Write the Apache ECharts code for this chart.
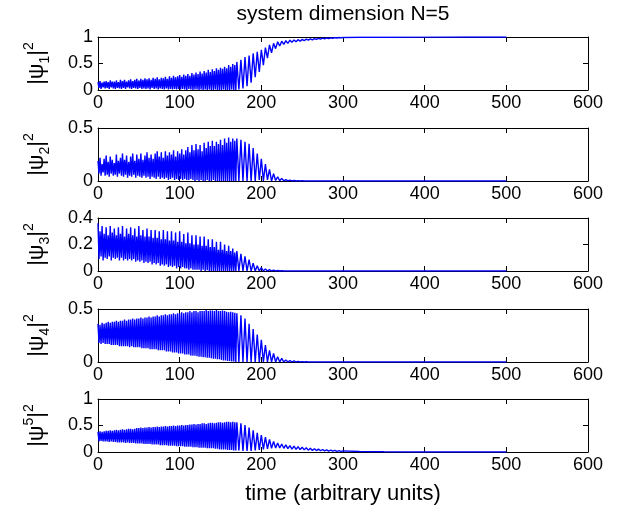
<!DOCTYPE html>
<html>
<head>
<meta charset="utf-8">
<script src="https://cdn.jsdelivr.net/npm/echarts@6/dist/echarts.min.js"></script>
<style>html,body{margin:0;padding:0;background:#fff;}#c{width:623px;height:513px;}</style>
</head>
<body>
<div id="c"></div>
<script>
// time samples (arbitrary units)
var time = [
0,1.25,2.5,3.75,5,6.25,7.5,8.75,
10,11.25,12.5,13.75,15,16.25,17.5,18.75,
20,21.25,22.5,23.75,25,26.25,27.5,28.75,
30,31.25,32.5,33.75,35,36.25,37.5,38.75,
40,41.25,42.5,43.75,45,46.25,47.5,48.75,
50,51.25,52.5,53.75,55,56.25,57.5,58.75,
60,61.25,62.5,63.75,65,66.25,67.5,68.75,
70,71.25,72.5,73.75,75,76.25,77.5,78.75,
80,81.25,82.5,83.75,85,86.25,87.5,88.75,
90,91.25,92.5,93.75,95,96.25,97.5,98.75,
100,101.25,102.5,103.75,105,106.25,107.5,108.75,
110,111.25,112.5,113.75,115,116.25,117.5,118.75,
120,121.25,122.5,123.75,125,126.25,127.5,128.75,
130,131.25,132.5,133.75,135,136.25,137.5,138.75,
140,141.25,142.5,143.75,145,146.25,147.5,148.75,
150,151.25,152.5,153.75,155,156.25,157.5,158.75,
160,161.25,162.5,163.75,165,166.25,167.5,168.75,
170,172.5,175,177.5,
180,182.5,185,187.5,
190,192.5,195,197.5,
200,202.5,205,207.5,
210,212.5,215,217.5,
220,222.5,225,227.5,
230,232.5,235,237.5,
240,242.5,245,247.5,
250,252.5,255,257.5,
260,262.5,265,267.5,
270,272.5,275,277.5,
280,282.5,285,287.5,
290,292.5,295,297.5,
300,
320,350,400,450,500];

var psi1 = [
0.15,0.04,0.17,0.02,0.14,0.05,0.16,0.03,
0.17,0.04,0.15,0.02,0.18,0.05,0.16,0.03,
0.16,0.02,0.18,0.04,0.15,0.03,0.19,0.02,
0.17,0.04,0.19,0.02,0.16,0.05,0.18,0.03,
0.20,0.02,0.17,0.04,0.19,0.03,0.21,0.02,
0.18,0.04,0.21,0.02,0.19,0.03,0.22,0.02,
0.20,0.03,0.22,0.01,0.19,0.04,0.23,0.02,
0.21,0.03,0.24,0.01,0.20,0.03,0.23,0.02,
0.22,0.01,0.25,0.03,0.21,0.01,0.26,0.02,
0.23,0.01,0.27,0.02,0.24,0.01,0.26,0.02,
0.28,0.01,0.25,0.02,0.29,0.01,0.27,0.00,
0.30,0.02,0.27,0.01,0.32,0.00,0.29,0.01,
0.33,0.01,0.30,0.00,0.35,0.01,0.31,0.00,
0.36,0.01,0.33,0.00,0.38,0.01,0.34,0.00,
0.39,0.00,0.36,0.01,0.41,0.00,0.38,0.00,
0.42,0.00,0.40,0.01,0.44,0.00,0.41,0.00,
0.47,0.00,0.44,0.01,0.49,0.00,0.47,0.00,
0.53,0.01,0.57,0.03,
0.62,0.07,0.65,0.14,
0.69,0.24,0.72,0.34,
0.76,0.47,0.80,0.60,
0.85,0.70,0.88,0.78,
0.91,0.83,0.92,0.86,
0.93,0.88,0.94,0.90,
0.945,0.91,0.95,0.92,
0.955,0.93,0.96,0.94,
0.965,0.945,0.97,0.955,
0.975,0.96,0.978,0.967,
0.982,0.972,0.985,0.977,
0.987,0.981,0.99,0.985,
0.991,
0.994,0.996,0.998,0.999,1.0];

var psi2 = [
0.19,0.07,0.22,0.05,0.16,0.08,0.21,0.05,
0.24,0.06,0.18,0.04,0.23,0.07,0.20,0.05,
0.17,0.06,0.25,0.04,0.19,0.07,0.22,0.05,
0.26,0.04,0.20,0.06,0.24,0.03,0.18,0.05,
0.23,0.04,0.26,0.06,0.19,0.03,0.25,0.05,
0.21,0.04,0.26,0.03,0.20,0.05,0.24,0.03,
0.27,0.04,0.22,0.02,0.25,0.04,0.21,0.03,
0.26,0.02,0.28,0.04,0.23,0.02,0.27,0.03,
0.22,0.02,0.28,0.03,0.24,0.01,0.27,0.02,
0.25,0.03,0.29,0.01,0.23,0.02,0.28,0.01,
0.26,0.02,0.30,0.01,0.25,0.02,0.29,0.01,
0.32,0.01,0.27,0.02,0.34,0.01,0.29,0.00,
0.35,0.01,0.30,0.00,0.34,0.01,0.28,0.00,
0.36,0.00,0.31,0.01,0.37,0.00,0.33,0.00,
0.38,0.01,0.33,0.00,0.37,0.00,0.35,0.00,
0.39,0.00,0.34,0.00,0.40,0.00,0.36,0.00,
0.41,0.00,0.37,0.00,0.40,0.00,0.38,0.00,
0.40,0.00,0.39,0.00,
0.37,0.00,0.35,0.00,
0.31,0.00,0.26,0.01,
0.21,0.00,0.16,0.01,
0.11,0.00,0.07,0.005,
0.04,0.002,0.025,0.002,
0.013,0.001,0.008,0.001,
0.005,0,0.003,0,
0.002,0,0.001,0,
0.001,0,0.001,0,
0,0,0,0,
0,0,0,0,
0,0,0,0,
0,
0,0,0,0,0];

var psi3 = [
0.36,0.09,0.30,0.11,0.34,0.08,0.28,0.10,
0.33,0.09,0.27,0.11,0.34,0.08,0.29,0.10,
0.32,0.09,0.27,0.10,0.33,0.08,0.28,0.10,
0.34,0.08,0.26,0.09,0.32,0.08,0.28,0.09,
0.33,0.08,0.27,0.09,0.32,0.07,0.26,0.08,
0.34,0.07,0.27,0.08,0.31,0.06,0.26,0.07,
0.32,0.06,0.26,0.07,0.31,0.05,0.25,0.06,
0.31,0.05,0.25,0.06,0.30,0.04,0.24,0.05,
0.31,0.04,0.24,0.05,0.30,0.03,0.23,0.04,
0.30,0.03,0.23,0.04,0.29,0.02,0.22,0.03,
0.30,0.02,0.22,0.03,0.28,0.02,0.21,0.02,
0.29,0.01,0.21,0.02,0.27,0.01,0.20,0.01,
0.27,0.01,0.20,0.01,0.26,0.00,0.19,0.01,
0.26,0.00,0.19,0.005,0.24,0.00,0.18,0.00,
0.24,0.00,0.18,0.00,0.22,0.00,0.16,0.00,
0.22,0.00,0.16,0.00,0.20,0.00,0.15,0.00,
0.19,0.00,0.15,0.00,0.17,0.00,0.14,0.00,
0.15,0.00,0.13,0.00,
0.11,0.00,0.085,0.00,
0.06,0.00,0.04,0.00,
0.025,0,0.016,0,
0.01,0,0.006,0,
0.004,0,0.002,0,
0.001,0,0,0,
0,0,0,0,
0,0,0,0,
0,0,0,0,
0,0,0,0,
0,0,0,0,
0,0,0,0,
0,
0,0,0,0,0];

var psi4 = [
0.36,0.18,0.35,0.17,0.37,0.18,0.36,0.17,
0.37,0.17,0.38,0.17,0.37,0.16,0.38,0.16,
0.38,0.16,0.39,0.16,0.38,0.15,0.39,0.15,
0.39,0.15,0.40,0.15,0.39,0.15,0.40,0.14,
0.40,0.15,0.41,0.14,0.40,0.14,0.41,0.14,
0.41,0.14,0.42,0.13,0.41,0.13,0.42,0.13,
0.42,0.13,0.43,0.12,0.42,0.12,0.43,0.12,
0.43,0.12,0.44,0.11,0.43,0.11,0.44,0.11,
0.44,0.11,0.45,0.10,0.44,0.10,0.45,0.10,
0.45,0.09,0.46,0.09,0.45,0.09,0.46,0.08,
0.46,0.08,0.47,0.08,0.46,0.07,0.47,0.07,
0.47,0.07,0.48,0.06,0.47,0.06,0.48,0.06,
0.48,0.055,0.47,0.05,0.48,0.05,0.48,0.045,
0.48,0.045,0.49,0.04,0.48,0.04,0.485,0.035,
0.485,0.03,0.48,0.03,0.49,0.025,0.48,0.025,
0.48,0.02,0.485,0.015,0.48,0.015,0.475,0.01,
0.47,0.01,0.475,0.005,0.47,0.005,0.465,0.00,
0.46,0.00,0.44,0.00,
0.41,0.00,0.36,0.00,
0.31,0.00,0.26,0.00,
0.21,0,0.16,0,
0.11,0,0.08,0,
0.05,0,0.035,0,
0.02,0,0.014,0,
0.01,0,0.006,0,
0.004,0,0.002,0,
0.001,0,0,0,
0,0,0,0,
0,0,0,0,
0,0,0,0,
0,
0,0,0,0,0];

var psi5 = [
0.38,0.20,0.39,0.21,0.38,0.20,0.39,0.20,
0.40,0.20,0.40,0.19,0.41,0.20,0.40,0.19,
0.41,0.19,0.42,0.18,0.41,0.18,0.42,0.18,
0.43,0.18,0.42,0.17,0.43,0.18,0.44,0.17,
0.44,0.17,0.43,0.17,0.44,0.16,0.45,0.16,
0.45,0.16,0.46,0.16,0.45,0.15,0.46,0.15,
0.46,0.15,0.47,0.15,0.46,0.14,0.47,0.14,
0.47,0.14,0.48,0.14,0.47,0.13,0.48,0.13,
0.48,0.13,0.49,0.13,0.48,0.12,0.49,0.12,
0.49,0.12,0.50,0.12,0.49,0.11,0.50,0.11,
0.50,0.11,0.51,0.11,0.50,0.10,0.51,0.10,
0.51,0.10,0.52,0.10,0.52,0.09,0.53,0.09,
0.52,0.09,0.53,0.08,0.53,0.08,0.54,0.08,
0.54,0.08,0.53,0.07,0.54,0.07,0.55,0.07,
0.55,0.07,0.54,0.06,0.55,0.06,0.56,0.05,
0.56,0.05,0.55,0.05,0.56,0.05,0.57,0.04,
0.57,0.04,0.56,0.04,0.57,0.03,0.56,0.03,
0.56,0.03,0.54,0.02,
0.51,0.02,0.46,0.02,
0.41,0.03,0.36,0.04,
0.32,0.05,0.28,0.06,
0.24,0.07,0.20,0.075,
0.17,0.075,0.15,0.07,
0.135,0.063,0.12,0.055,
0.11,0.05,0.10,0.045,
0.09,0.04,0.08,0.035,
0.07,0.03,0.062,0.027,
0.055,0.024,0.047,0.02,
0.04,0.018,0.034,0.015,
0.029,0.013,0.025,0.011,
0.022,
0.01,0.004,0.001,0,0];

var xTicks = {min: 0, max: 600, interval: 100};
var yMax = [1, 0.5, 0.4, 0.5, 1];
var yInterval = [0.5, 0.5, 0.2, 0.5, 0.5];
var yNames = [
  '{a||ψ}{s|1}{a||}{p|2}',
  '{a||ψ}{s|2}{a||}{p|2}',
  '{a||ψ}{s|3}{a||}{p|2}',
  '{a||ψ}{s|4}{a||}{p|2}',
  '{a||ψ}{p|5}{a||}{p|2}'
];
var titleText = 'system dimension N=5';
var xName = 'time (arbitrary units)';
var seriesData = [psi1, psi2, psi3, psi4, psi5];

var FONT = 'Liberation Sans, Arial, Helvetica, sans-serif';
var chart = echarts.init(document.getElementById('c'), null, {renderer: 'canvas'});

var grids = [], xAxes = [], yAxes = [], series = [];
var tops = [37, 128, 218, 309, 399];
for (var i = 0; i < 5; i++) {
  grids.push({left: 98, right: 35, top: tops[i], height: 53, containLabel: false});
}
var lineStyle = {color: '#000', width: 1};
for (var i = 0; i < 5; i++) {
  xAxes.push({
    type: 'value', gridIndex: i, position: 'bottom',
    min: xTicks.min, max: xTicks.max, interval: xTicks.interval,
    axisLine: {show: true, onZero: false, lineStyle: lineStyle},
    axisTick: {show: true, inside: true, length: 5, lineStyle: lineStyle},
    axisLabel: {show: true, color: '#000', fontSize: 18, fontFamily: FONT, margin: 4},
    splitLine: {show: false}
  });
}
for (var i = 0; i < 5; i++) {
  xAxes.push({
    type: 'value', gridIndex: i, position: 'top',
    min: xTicks.min, max: xTicks.max, interval: xTicks.interval,
    axisLine: {show: true, onZero: false, lineStyle: lineStyle},
    axisTick: {show: true, inside: true, length: 5, lineStyle: lineStyle},
    axisLabel: {show: false},
    splitLine: {show: false}
  });
}
for (var i = 0; i < 5; i++) {
  yAxes.push({
    type: 'value', gridIndex: i, position: 'left',
    min: 0, max: yMax[i], interval: yInterval[i],
    axisLine: {show: true, onZero: false, lineStyle: lineStyle},
    axisTick: {show: true, inside: true, length: 5, lineStyle: lineStyle},
    axisLabel: {show: true, color: '#000', fontSize: 18, fontFamily: FONT, margin: 5},
    splitLine: {show: false},
    name: yNames[i], nameLocation: 'middle', nameRotate: 90, nameGap: 46,
    nameTextStyle: {
      color: '#000', fontFamily: FONT,
      rich: {
        a: {fontSize: 22, fontFamily: FONT, color: '#000', lineHeight: 30, verticalAlign: 'middle'},
        s: {fontSize: 14, fontFamily: FONT, color: '#000', lineHeight: 30, verticalAlign: 'bottom'},
        p: {fontSize: 14, fontFamily: FONT, color: '#000', lineHeight: 30, verticalAlign: 'top'}
      }
    }
  });
}
for (var i = 0; i < 5; i++) {
  yAxes.push({
    type: 'value', gridIndex: i, position: 'right',
    min: 0, max: yMax[i], interval: yInterval[i],
    axisLine: {show: true, onZero: false, lineStyle: lineStyle},
    axisTick: {show: true, inside: true, length: 5, lineStyle: lineStyle},
    axisLabel: {show: false},
    splitLine: {show: false}
  });
}
for (var i = 0; i < 5; i++) {
  var arr = seriesData[i];
  series.push({
    type: 'line', xAxisIndex: i, yAxisIndex: i,
    data: time.map(function (t, k) { return [t, arr[k]]; }),
    showSymbol: false, symbol: 'none', animation: false,
    lineStyle: {color: '#0000ff', width: 1.4},
    silent: true
  });
}

chart.setOption({
  backgroundColor: '#fff',
  animation: false,
  grid: grids,
  xAxis: xAxes,
  yAxis: yAxes,
  series: series,
  graphic: [
    {type: 'text', x: 343, y: 14, style: {text: titleText, fill: '#000', font: '21px ' + FONT, textAlign: 'center', textVerticalAlign: 'middle'}},
    {type: 'text', x: 343, y: 494, style: {text: xName, fill: '#000', font: '22px ' + FONT, textAlign: 'center', textVerticalAlign: 'middle'}}
  ]
});
</script>
</body>
</html>
